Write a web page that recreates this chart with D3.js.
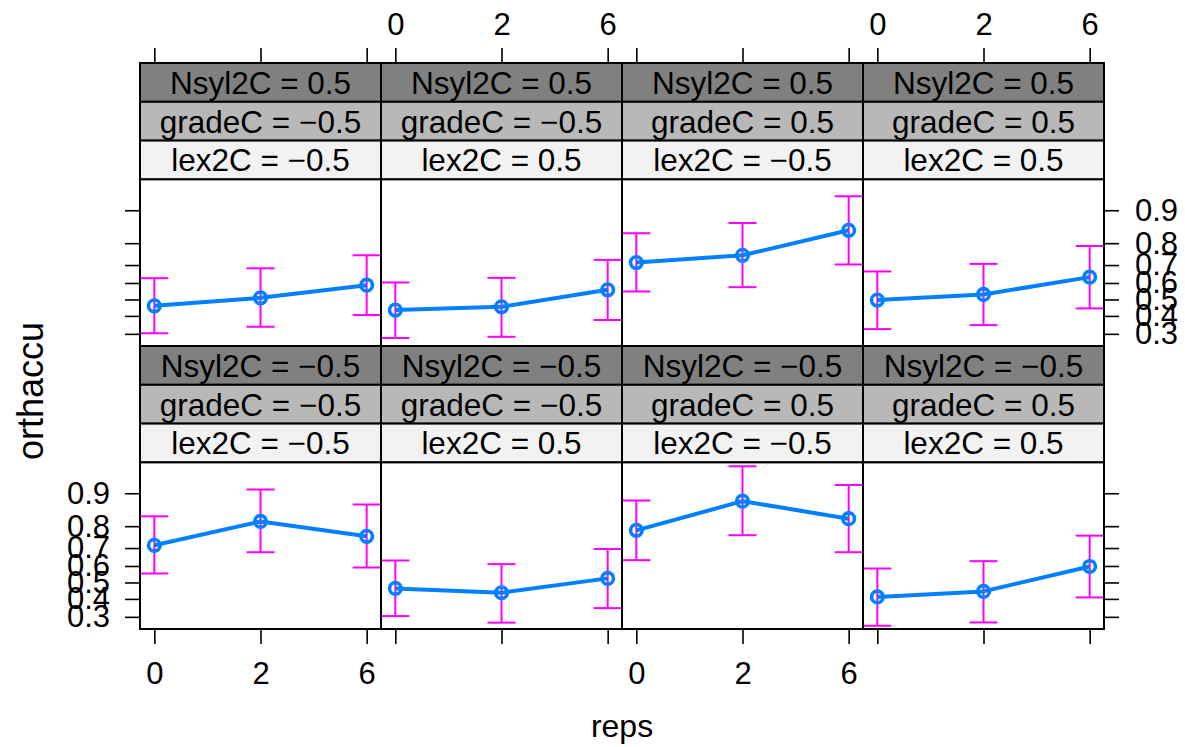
<!DOCTYPE html>
<html>
<head>
<meta charset="utf-8">
<script src="https://cdn.jsdelivr.net/npm/d3@7"></script>
<style>
  html, body { margin: 0; padding: 0; background: #ffffff; }
  svg { display: block; font-family: "Liberation Sans", Arial, Helvetica, sans-serif; }
</style>
</head>
<body>
<svg id="chart" width="1185" height="747"></svg>
<script>
// Effect of reps on orthaccu, conditioned on Nsyl2C, gradeC and lex2C (lattice-style panels)
const reps = ["0", "2", "6"];
const nsyl2C = [0.5, 0.5, 0.5, 0.5, -0.5, -0.5, -0.5, -0.5];
const gradeC = [-0.5, -0.5, 0.5, 0.5, -0.5, -0.5, 0.5, 0.5];
const lex2C  = [-0.5, 0.5, -0.5, 0.5, -0.5, 0.5, -0.5, 0.5];

const fit = [
  [0.461, 0.510, 0.587],
  [0.435, 0.455, 0.559],
  [0.713, 0.748, 0.846],
  [0.496, 0.531, 0.634],
  [0.714, 0.818, 0.757],
  [0.463, 0.437, 0.525],
  [0.783, 0.881, 0.828],
  [0.412, 0.445, 0.597]
];
const lower = [
  [0.303, 0.338, 0.405],
  [0.279, 0.285, 0.376],
  [0.549, 0.575, 0.703],
  [0.325, 0.347, 0.445],
  [0.555, 0.678, 0.591],
  [0.304, 0.271, 0.347],
  [0.634, 0.762, 0.678],
  [0.256, 0.272, 0.409]
];
const upper = [
  [0.628, 0.683, 0.748],
  [0.603, 0.630, 0.726],
  [0.836, 0.868, 0.927],
  [0.666, 0.706, 0.789],
  [0.836, 0.908, 0.872],
  [0.632, 0.611, 0.695],
  [0.883, 0.946, 0.917],
  [0.585, 0.628, 0.760]
];
const yTicks = [0.3, 0.4, 0.5, 0.6, 0.7, 0.8, 0.9];
const yLimits = [0.2411, 0.9506];

// layout
const left = 140, colW = 241, top0 = 63;
const stripH = 38.8, bodyH = 166.6;
const rowH = 3 * stripH + bodyH;
const nCols = 4;
const stripFont = 31.5, axisFont = 31;

const logit = p => Math.log(p / (1 - p));
const fmt = v => (v < 0 ? "\u2212" : "") + Math.abs(v);

const svg = d3.select("#chart");
const defs = svg.append("defs");

const x = d3.scalePoint().domain(reps).range([0, colW]).padding(0.135);

const stripFill = ["#808080", "#b8b8b8", "#f2f2f2"];

fit.forEach((f, i) => {
  const col = i % nCols, row = Math.floor(i / nCols);
  const px = left + col * colW;
  const stripTop = top0 + row * rowH;
  const bodyTop = stripTop + 3 * stripH;
  const bodyBot = bodyTop + bodyH;

  const y = d3.scaleLinear()
    .domain([logit(yLimits[0]), logit(yLimits[1])])
    .range([bodyBot, bodyTop]);

  const g = svg.append("g").attr("transform", `translate(${px},0)`);

  // strips
  const stripTexts = [
    "Nsyl2C = " + fmt(nsyl2C[i]),
    "gradeC = " + fmt(gradeC[i]),
    "lex2C = " + fmt(lex2C[i])
  ];
  stripTexts.forEach((t, k) => {
    const sy = stripTop + k * stripH;
    g.append("rect")
      .attr("x", 0).attr("y", sy).attr("width", colW).attr("height", stripH)
      .attr("fill", stripFill[k]).attr("stroke", "#000").attr("stroke-width", 2);
    g.append("text")
      .attr("x", colW / 2).attr("y", sy + stripH / 2 + stripFont * 0.36)
      .attr("text-anchor", "middle")
      .attr("font-size", stripFont)
      .attr("fill", "#000")
      .text(t);
  });

  // clip for panel body
  const clipId = "clip" + i;
  defs.append("clipPath").attr("id", clipId)
    .append("rect").attr("x", 0).attr("y", bodyTop).attr("width", colW).attr("height", bodyH);

  g.append("rect")
    .attr("x", 0).attr("y", bodyTop).attr("width", colW).attr("height", bodyH)
    .attr("fill", "#fff");

  const body = g.append("g").attr("clip-path", `url(#${clipId})`);
  const capW = 14;

  // confidence bars
  reps.forEach((r, j) => {
    const cx = x(r);
    const yl = y(logit(lower[i][j])), yu = y(logit(upper[i][j]));
    body.append("line").attr("x1", cx).attr("x2", cx).attr("y1", yl).attr("y2", yu)
      .attr("stroke", "#ff00ff").attr("stroke-width", 2);
    [yl, yu].forEach(yy => {
      body.append("line").attr("x1", cx - capW).attr("x2", cx + capW).attr("y1", yy).attr("y2", yy)
        .attr("stroke", "#ff00ff").attr("stroke-width", 2);
    });
  });

  // fitted line
  const line = d3.line().x((d, j) => x(reps[j])).y(d => y(logit(d)));
  body.append("path").datum(f).attr("d", line)
    .attr("fill", "none").attr("stroke", "#0080ff").attr("stroke-width", 4)
    .attr("stroke-linejoin", "round");

  body.selectAll("circle.pt").data(f).join("circle")
    .attr("class", "pt")
    .attr("cx", (d, j) => x(reps[j])).attr("cy", d => y(logit(d)))
    .attr("r", 5.8)
    .attr("fill", "none").attr("stroke", "#0080ff").attr("stroke-width", 3.6);

  g.append("rect")
    .attr("x", 0).attr("y", bodyTop).attr("width", colW).attr("height", bodyH)
    .attr("fill", "none").attr("stroke", "#000").attr("stroke-width", 2);

  // axes on the outer edges, labels alternating
  const styleAxis = (sel, showLabels) => {
    sel.select(".domain").remove();
    sel.selectAll(".tick line").attr("stroke", "#000").attr("stroke-width", 1.6);
    sel.selectAll(".tick text").attr("font-size", axisFont).attr("fill", "#000")
      .attr("font-family", "Liberation Sans, Arial, sans-serif")
      .style("visibility", showLabels ? "visible" : "hidden");
  };

  if (row === 1) {
    const ax = g.append("g").attr("transform", `translate(0,${bodyBot})`)
      .call(d3.axisBottom(x).tickSize(15).tickPadding(18));
    styleAxis(ax, col % 2 === 0);
  }
  if (row === 0) {
    const ax = g.append("g").attr("transform", `translate(0,${stripTop})`)
      .call(d3.axisTop(x).tickSize(15).tickPadding(13));
    styleAxis(ax, col % 2 === 1);
  }
  const yAxisTicks = yTicks.map(logit);
  if (col === 0) {
    const ax = g.append("g")
      .call(d3.axisLeft(y).tickValues(yAxisTicks).tickSize(15).tickPadding(15)
        .tickFormat((d, k) => String(yTicks[k])));
    styleAxis(ax, row === 1);
  }
  if (col === nCols - 1) {
    const ax = g.append("g").attr("transform", `translate(${colW},0)`)
      .call(d3.axisRight(y).tickValues(yAxisTicks).tickSize(15).tickPadding(16)
        .tickFormat((d, k) => String(yTicks[k])));
    styleAxis(ax, row === 0);
  }
});

// axis titles
svg.append("text")
  .attr("x", left + nCols * colW / 2).attr("y", 737)
  .attr("text-anchor", "middle").attr("font-size", 32)
  .text("reps");

svg.append("text")
  .attr("transform", `translate(43,391) rotate(-90)`)
  .attr("text-anchor", "middle").attr("font-size", 36)
  .text("orthaccu");
</script>
</body>
</html>
